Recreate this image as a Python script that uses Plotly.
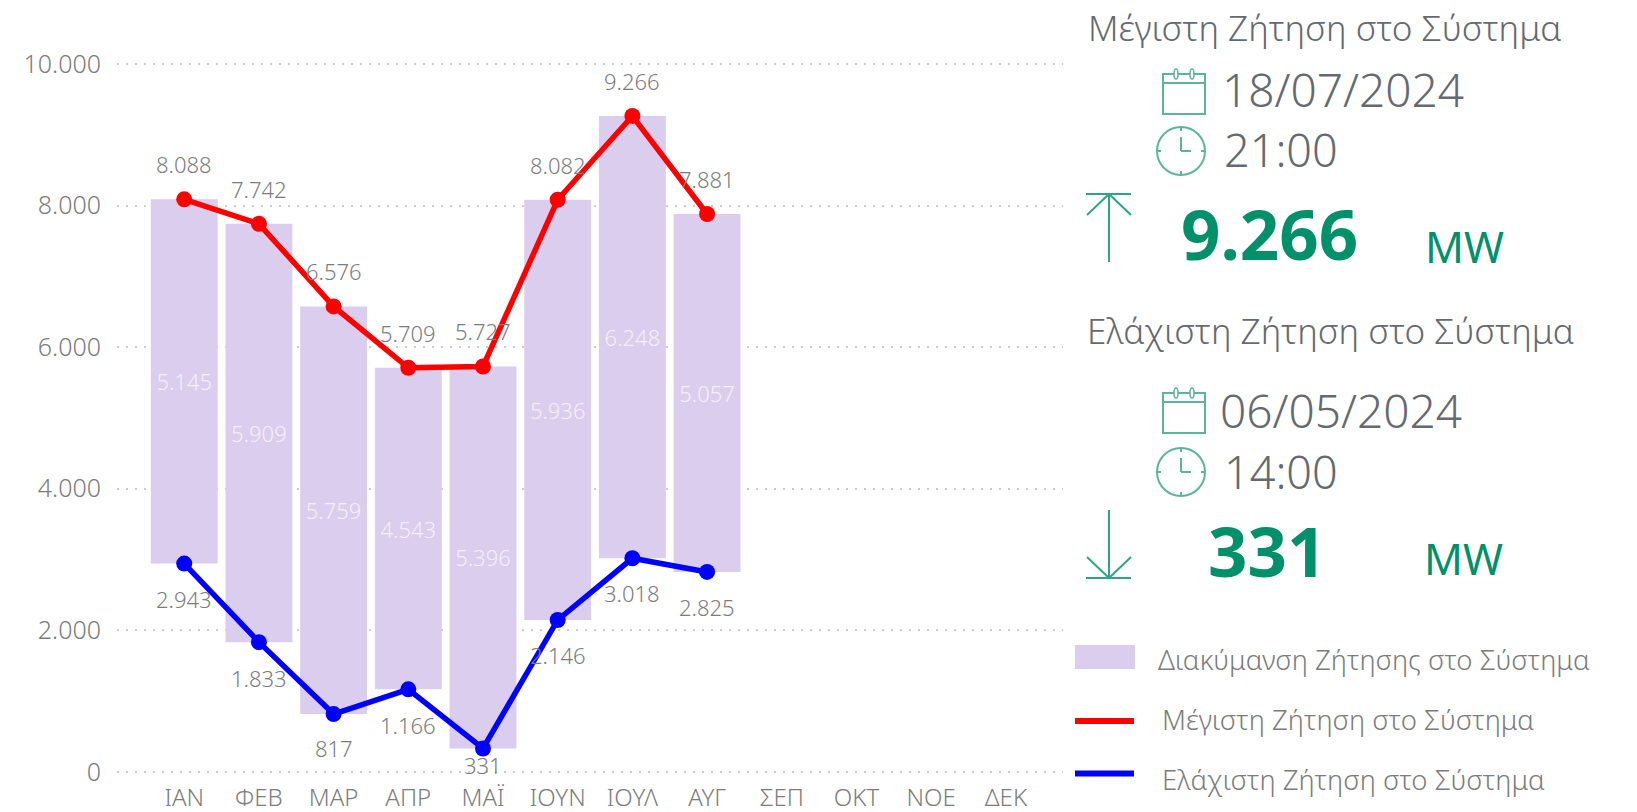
import plotly.graph_objects as go

W, H = 1637, 812
months = ["ΙΑΝ", "ΦΕΒ", "ΜΑΡ", "ΑΠΡ", "ΜΑΪ", "ΙΟΥΝ", "ΙΟΥΛ", "ΑΥΓ", "ΣΕΠ", "ΟΚΤ", "ΝΟΕ", "ΔΕΚ"]
max_demand = [8088, 7742, 6576, 5709, 5727, 8082, 9266, 7881]
min_demand = [2943, 1833, 817, 1166, 331, 2146, 3018, 2825]
range_demand = [5145, 5909, 5759, 4543, 5396, 5936, 6248, 5057]
min_label_shift = [-35, -36, -34, -36, -17, -35, -35, -35]

name_range = "Διακύμανση Ζήτησης στο Σύστημα"
name_max = "Μέγιστη Ζήτηση στο Σύστημα"
name_min = "Ελάχιστη Ζήτηση στο Σύστημα"

FONT = "Noto Sans"
GREY = "#7c7c7c"
DARK = "#666a6e"
GREEN = "#00916A"
ICON = "#5AB59B"
PURPLE = "#DACDED"


def gr(v):
    return f"{v:,}".replace(",", ".")


def px(x):
    return x / W


def py(y):
    return 1 - y / H


fig = go.Figure()
x_used = months[:len(max_demand)]
fig.add_bar(
    x=x_used, y=range_demand, base=min_demand, name=name_range,
    marker=dict(color=PURPLE, line_width=0),
    text=[gr(v) for v in range_demand], textposition="inside", insidetextanchor="middle",
    textangle=0, textfont=dict(family=FONT, size=22, color="rgba(255,255,255,0.72)", weight=300),
    hoverinfo="skip", showlegend=False,
)
fig.add_scatter(x=x_used, y=max_demand, mode="lines+markers", name=name_max,
                line=dict(color="#FF0000", width=5.5), marker=dict(color="#FF0000", size=16),
                showlegend=False, cliponaxis=False)
fig.add_scatter(x=x_used, y=min_demand, mode="lines+markers", name=name_min,
                line=dict(color="#0000FF", width=5.5), marker=dict(color="#0000FF", size=16),
                showlegend=False, cliponaxis=False)

ann = []
for m, v in zip(x_used, max_demand):
    ann.append(dict(x=m, y=v, yshift=35, text=gr(v), showarrow=False,
                    font=dict(family=FONT, size=22, color=GREY, weight=300)))
for m, v, s in zip(x_used, min_demand, min_label_shift):
    ann.append(dict(x=m, y=v, yshift=s, text=gr(v), showarrow=False,
                    font=dict(family=FONT, size=22, color=GREY, weight=300)))


def label(x, y, text, size, color=DARK, weight=300):
    ann.append(dict(xref="paper", yref="paper", x=px(x - 3), y=py(y - 2), text=text, showarrow=False,
                    xanchor="left", yanchor="middle",
                    font=dict(family=FONT, size=size, color=color, weight=weight)))


label(1089, 29, name_max, 35)
label(1223, 91, "18/07/2024", 46)
label(1225, 151, "21:00", 45)
label(1182, 235, gr(max(max_demand)), 69, GREEN, 700)
label(1426, 248, "MW", 43, GREEN, 400)
label(1088, 332, name_min, 35)
label(1221, 412, "06/05/2024", 46)
label(1225, 474, "14:00", 45)
label(1209, 552, gr(min(min_demand)), 69, GREEN, 700)
label(1425, 560, "MW", 43, GREEN, 400)
label(1159, 661, name_range, 27.5, GREY)
label(1163, 721, name_max, 27.5, GREY)
label(1163, 781, name_min, 27.5, GREY)

shapes = []


def seg(x0, y0, x1, y1, color=ICON, width=2):
    shapes.append(dict(type="line", xref="paper", yref="paper", x0=px(x0), y0=py(y0), x1=px(x1), y1=py(y1),
                       line=dict(color=color, width=width)))


def calendar(x0, y0):
    shapes.append(dict(type="rect", xref="paper", yref="paper", x0=px(x0), x1=px(x0 + 42),
                       y0=py(y0 + 5), y1=py(y0 + 45), line=dict(color=ICON, width=2)))
    seg(x0, y0 + 14, x0 + 42, y0 + 14)
    for dx in (13, 29):
        shapes.append(dict(type="circle", xref="paper", yref="paper", x0=px(x0 + dx - 2), x1=px(x0 + dx + 2),
                           y0=py(y0), y1=py(y0 + 10), line=dict(color=ICON, width=1.5), fillcolor="white"))


def clock(cx, cy, r=24):
    shapes.append(dict(type="circle", xref="paper", yref="paper", x0=px(cx - r), x1=px(cx + r),
                       y0=py(cy - r), y1=py(cy + r), line=dict(color=ICON, width=2)))
    seg(cx, cy - 14, cx, cy)
    seg(cx, cy, cx + 10, cy)
    for a, b, c, d in ((0, -r, 0, -r + 4), (0, r, 0, r - 4), (-r, 0, -r + 4, 0), (r, 0, r - 4, 0)):
        seg(cx + a, cy + b, cx + c, cy + d)


calendar(1163, 69)
clock(1181, 151)
calendar(1163, 388)
clock(1181, 472)
# up arrow
seg(1109, 193, 1109, 262, "#2BA585")
seg(1086, 194, 1131, 194, "#2BA585")
seg(1087, 215, 1109, 194, "#2BA585")
seg(1131, 215, 1109, 194, "#2BA585")
# down arrow
seg(1109, 510, 1109, 578, "#2BA585")
seg(1086, 578, 1131, 578, "#2BA585")
seg(1087, 557, 1109, 578, "#2BA585")
seg(1131, 557, 1109, 578, "#2BA585")
# legend keys
shapes.append(dict(type="rect", xref="paper", yref="paper", x0=px(1075), x1=px(1135), y0=py(645), y1=py(669),
                   fillcolor=PURPLE, line_width=0))
seg(1075, 721, 1134, 721, "#FF0000", 6)
seg(1075, 773.5, 1134, 773.5, "#0000FF", 6)

fig.update_layout(
    width=W, height=H, margin=dict(l=0, r=0, t=0, b=0, pad=0, autoexpand=False),
    paper_bgcolor="white", plot_bgcolor="white", separators=",.",
    bargap=0.105, annotations=ann, shapes=shapes,
    font=dict(family=FONT, color=GREY),
    xaxis=dict(domain=[px(117), px(1063)], type="category", categoryorder="array", categoryarray=months,
               range=[-0.9, 11.765], showgrid=False, zeroline=False, showline=False,
               ticks="outside", ticklen=1, tickcolor="rgba(255,255,255,0)", anchor="y",
               tickfont=dict(family=FONT, size=24, color=GREY, weight=300)),
    yaxis=dict(domain=[py(775.44), py(60.46)], range=[-50, 10050], dtick=2000, tick0=0, tickformat=",",
               gridcolor="#cccccc", griddash="2px 7px", gridwidth=1.5, zeroline=False, showline=False,
               ticks="outside", ticklen=10, tickcolor="rgba(255,255,255,0)",
               tickfont=dict(family=FONT, size=25, color=GREY, weight=300)),
)
fig.write_html("out.html", config=dict(displayModeBar=False),
               post_script="document.body.style.margin='0';document.body.style.overflow='hidden';")
